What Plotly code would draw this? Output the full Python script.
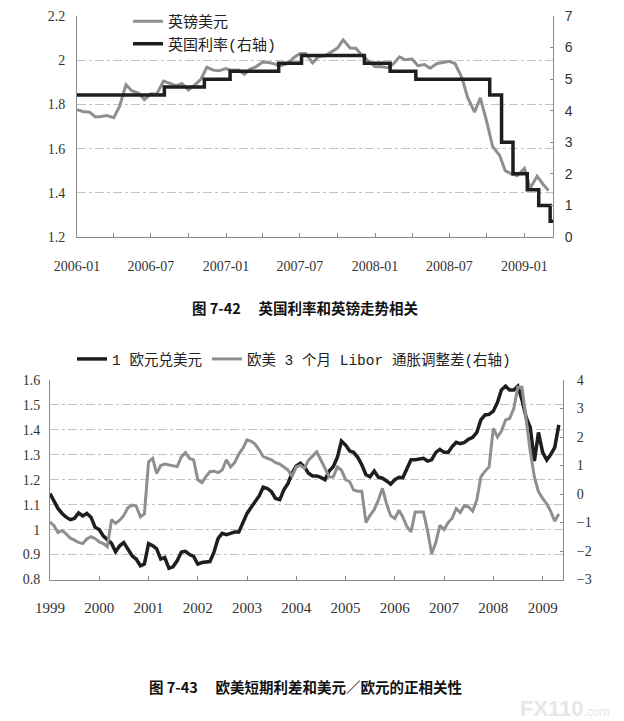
import pandas as pd
import plotly.graph_objects as go

W, H = 624, 721
GRAY = "#8f8f8f"; BLACK = "#1e1e1e"; AX = "#8a8a8a"; GRID = "#c4c4c4"
SERIF = "Liberation Serif, Noto Sans CJK SC"; SANS = "Liberation Sans, Noto Sans CJK SC"
MONO = "Liberation Mono, Noto Sans CJK SC"

# ---- fig 7-42: GBP/USD (semi-monthly) and UK bank rate ------------------------------
gbp_dates = pd.date_range("2006-01-01", periods=77, freq="SMS")
gbp_usd = [1.776, 1.768, 1.765, 1.743, 1.745, 1.750, 1.740, 1.790, 1.889, 1.862,
           1.850, 1.822, 1.848, 1.846, 1.905, 1.895, 1.885, 1.895, 1.865, 1.885,
           1.915, 1.968, 1.955, 1.952, 1.962, 1.954, 1.956, 1.936, 1.960, 1.970,
           1.992, 1.990, 1.982, 1.975, 1.985, 2.010, 2.030, 2.030, 1.988, 2.015,
           2.020, 2.035, 2.055, 2.092, 2.055, 2.054, 2.020, 1.998, 1.970, 1.971,
           1.966, 1.983, 2.015, 2.002, 2.005, 1.975, 1.980, 1.964, 1.985, 1.990,
           1.995, 1.985, 1.920, 1.830, 1.765, 1.830, 1.720, 1.610, 1.570, 1.500,
           1.485, 1.478, 1.510, 1.420, 1.475, 1.440, 1.410]
rate_dates = ["2006-01-01", "2006-08-03", "2006-11-09", "2007-01-11", "2007-05-10",
              "2007-07-05", "2007-12-06", "2008-02-07", "2008-04-10", "2008-10-08",
              "2008-11-06", "2008-12-04", "2009-01-08", "2009-02-05", "2009-03-05",
              "2009-03-12"]
uk_rate = [4.5, 4.75, 5.0, 5.25, 5.5, 5.75, 5.5, 5.25, 5.0, 4.5, 3.0, 2.0, 1.5, 1.0, 0.5, 0.5]
top_ticks = ["2006-01-01", "2006-07-01", "2007-01-01", "2007-07-01",
             "2008-01-01", "2008-07-01", "2009-01-01"]

# ---- fig 7-43: EUR/USD and 3m Libor real spread (monthly) ---------------------------
eur_dates = pd.date_range("1999-01-01", periods=125, freq="MS")
eur_usd = [1.145, 1.110, 1.085, 1.065, 1.050, 1.040, 1.045, 1.067, 1.055, 1.065,
           1.050, 1.010, 1.000, 0.974, 0.958, 0.945, 0.911, 0.935, 0.948, 0.918,
           0.895, 0.882, 0.855, 0.862, 0.944, 0.935, 0.924, 0.882, 0.888, 0.845,
           0.851, 0.875, 0.910, 0.913, 0.900, 0.893, 0.862, 0.868, 0.871, 0.872,
           0.910, 0.965, 0.985, 0.980, 0.985, 0.990, 0.990, 1.030, 1.065, 1.090,
           1.110, 1.135, 1.170, 1.165, 1.152, 1.125, 1.120, 1.160, 1.185, 1.226,
           1.255, 1.266, 1.252, 1.226, 1.215, 1.215, 1.210, 1.200, 1.235, 1.252,
           1.290, 1.355, 1.339, 1.315, 1.310, 1.290, 1.260, 1.220, 1.212, 1.235,
           1.210, 1.206, 1.195, 1.182, 1.200, 1.210, 1.208, 1.245, 1.280, 1.280,
           1.282, 1.286, 1.275, 1.280, 1.310, 1.322, 1.310, 1.310, 1.332, 1.350,
           1.345, 1.350, 1.362, 1.370, 1.390, 1.440, 1.460, 1.462, 1.475, 1.510,
           1.560, 1.575, 1.560, 1.560, 1.575, 1.520, 1.450, 1.410, 1.275, 1.390,
           1.310, 1.279, 1.300, 1.330, 1.420]
libor_spread = [-0.98, -1.12, -1.35, -1.28, -1.40, -1.55, -1.62, -1.70, -1.74, -1.58,
                -1.50, -1.56, -1.68, -1.74, -1.85, -0.90, -1.03, -0.92, -0.75, -0.48,
                -0.39, -0.42, -0.80, -0.70, 1.13, 1.25, 0.72, 1.00, 1.05, 1.02,
                1.00, 0.96, 1.30, 1.45, 1.25, 1.20, 0.50, 0.40, 0.60, 0.78,
                0.80, 0.75, 0.84, 1.20, 0.95, 1.10, 1.40, 1.60, 1.90, 1.85,
                1.75, 1.55, 1.31, 1.25, 1.20, 1.10, 1.05, 0.95, 0.84, 0.62,
                0.95, 1.00, 0.90, 1.19, 1.35, 1.48, 1.20, 0.90, 0.60, 0.60,
                0.95, 0.84, 0.50, 0.43, 0.14, 0.10, 0.10, -1.00, -0.75, -0.55,
                -0.21, 0.20, -0.35, -0.76, -0.86, -0.57, -0.80, -1.15, -1.33, -0.63,
                -0.63, -0.63, -1.30, -2.10, -1.70, -1.10, -1.25, -1.00, -0.86, -0.51,
                -0.65, -0.40, -0.45, -0.60, -0.20, 0.60, 0.80, 0.95, 2.30, 2.00,
                2.20, 2.60, 2.65, 3.00, 3.75, 3.75, 2.60, 1.50, 0.60, 0.08,
                -0.15, -0.35, -0.60, -0.95, -0.70]

fig = go.Figure()
fig.add_trace(go.Scatter(x=gbp_dates, y=gbp_usd, name="英镑美元", mode="lines",
                         line=dict(color=GRAY, width=3), xaxis="x", yaxis="y", legend="legend"))
fig.add_trace(go.Scatter(x=rate_dates, y=uk_rate, name="英国利率(右轴)", mode="lines",
                         line=dict(color=BLACK, width=3.5, shape="hv"), xaxis="x", yaxis="y2",
                         legend="legend"))
fig.add_trace(go.Scatter(x=eur_dates, y=eur_usd, name="1 欧元兑美元", mode="lines",
                         line=dict(color=BLACK, width=3.5), xaxis="x2", yaxis="y3", legend="legend2"))
fig.add_trace(go.Scatter(x=eur_dates, y=libor_spread, name="欧美 3 个月 Libor 通胀调整差(右轴)",
                         mode="lines", line=dict(color=GRAY, width=3), xaxis="x2", yaxis="y4",
                         legend="legend2"))

ax = dict(showline=True, linecolor=AX, linewidth=1, zeroline=False, color="#333")
grid = dict(showgrid=True, gridcolor=GRID, griddash="dashdot", gridwidth=1)
cap = dict(xref="paper", yref="paper", xanchor="center", yanchor="middle", showarrow=False)

fig.update_layout(
    width=W, height=H, margin=dict(l=0, r=0, t=0, b=0, autoexpand=False),
    paper_bgcolor="white", plot_bgcolor="white",
    font=dict(family=SERIF, size=14, color="#222"),
    xaxis=dict(**ax, domain=[77/W, 553/W], range=["2006-01-01", "2009-03-12"], type="date",
               tickvals=top_ticks, tickformat="%Y-%m", ticks="inside", ticklen=4, tickcolor=AX,
               minor=dict(dtick="M3", tick0="2006-01-01", ticks="inside", ticklen=4, tickcolor=AX),
               ticklabelstandoff=16, showgrid=False, tickfont=dict(size=14)),
    yaxis=dict(**ax, **grid, domain=[1-237/H, 1-16/H], range=[1.2, 2.2], dtick=0.2,
               anchor="x", ticks="", ticklabelstandoff=8, tickfont=dict(size=14)),
    yaxis2=dict(**ax, domain=[1-237/H, 1-16/H], range=[0, 7], dtick=1, overlaying="y",
                side="right", anchor="x", showgrid=False, ticks="inside", ticklen=3,
                tickcolor=AX, ticklabelstandoff=8, tickfont=dict(family=SANS, size=14)),
    xaxis2=dict(**ax, domain=[50/W, 563/W], range=["1999-01-01", "2009-06-01"], type="date",
                dtick="M12", tick0="1999-01-01", tickformat="%Y", ticks="inside", ticklen=4,
                tickcolor=AX, ticklabelstandoff=14, showgrid=False, anchor="y3",
                tickfont=dict(size=15)),
    yaxis3=dict(**ax, **grid, domain=[1-579.5/H, 1-380/H], range=[0.8, 1.6], dtick=0.1,
                anchor="x2", ticks="", ticklabelstandoff=6, tickfont=dict(size=14)),
    yaxis4=dict(**ax, domain=[1-579.5/H, 1-380/H], range=[-3, 4], dtick=1, overlaying="y3",
                side="right", anchor="x2", showgrid=False, ticks="inside", ticklen=3,
                tickcolor=AX, ticklabelstandoff=10, tickfont=dict(size=14)),
    legend=dict(x=128/W, y=1-5/H, xanchor="left", yanchor="top", bgcolor="rgba(0,0,0,0)",
                font=dict(family=MONO, size=15), tracegroupgap=0, itemwidth=30),
    legend2=dict(x=72/W, y=1-343/H, xanchor="left", yanchor="top", orientation="h",
                 bgcolor="rgba(0,0,0,0)", font=dict(family=MONO, size=14.5), itemwidth=30),
    annotations=[
        dict(**cap, text="图 7-42　 英国利率和英镑走势相关", x=305/W, y=1-307/H,
             font=dict(family="Noto Sans CJK SC", size=14.5, color="#111", weight="bold")),
        dict(**cap, text="图 7-43　 欧美短期利差和美元／欧元的正相关性", x=305/W, y=1-686/H,
             font=dict(family="Noto Sans CJK SC", size=14.5, color="#111", weight="bold")),
        dict(**cap, text="<b>FX110</b><span style='font-size:12px'>.com</span>", x=565/W, y=1-708/H,
             font=dict(family="Liberation Sans", size=22, color="#e6e6e6")),
    ],
)

fig.write_html("out.html", config={"displayModeBar": False},
               post_script="document.body.style.margin='0';")
